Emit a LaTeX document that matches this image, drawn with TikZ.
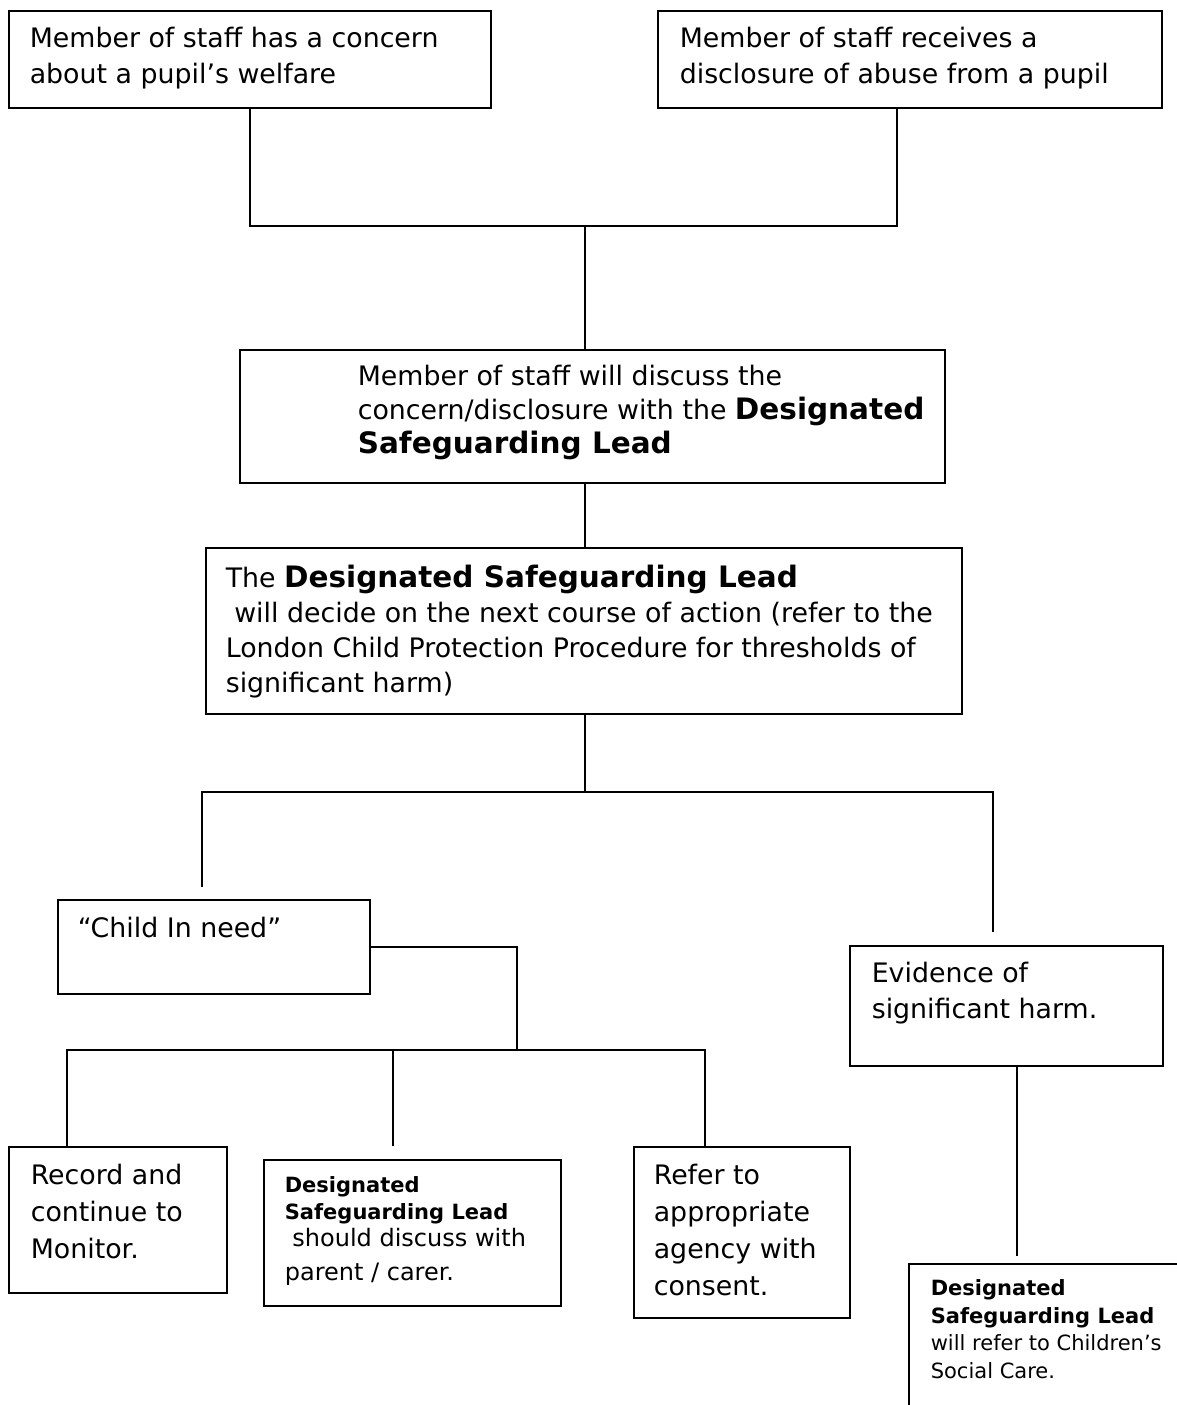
\documentclass[tikz,border=0pt]{standalone}
\usepackage{fontspec}
\setmainfont{DejaVu Sans}

% width, height, left pad, first baseline, text
\newcommand{\boxtext}[5]{\parbox[t][#2pt][t]{#1pt}{\raggedright\leftskip=#3pt\rule{0pt}{#4pt}#5}}
\newcommand{\dsl}[1]{{\fontsize{29.5}{36}\selectfont\bfseries #1}}
\newcommand{\dslsmall}[1]{{\fontsize{21}{26}\selectfont\bfseries #1}}

\tikzset{
  box/.style={draw,line width=1.6pt,anchor=north west,inner sep=0pt,font=\fontsize{26.8}{36}\selectfont},
  link/.style={line width=1.6pt}
}

\begin{document}
\begin{tikzpicture}[x=1pt,y=-1pt]
  \useasboundingbox (0,0) rectangle (1177,1405);
  \clip (0,0) rectangle (1177,1405);

  \node[box] (concern) at (8,10) {\boxtext{482}{97}{21}{37}{Member of staff has a concern\\about a pupil’s welfare}};
  \node[box] (disclosure) at (657,10) {\boxtext{504}{97}{22}{37}{Member of staff receives a\\disclosure of abuse from a pupil}};
  \node[box,font=\fontsize{26.8}{34}\selectfont] (discuss) at (239,349) {\boxtext{705}{133}{118}{36}{Member of staff will discuss the\\concern/disclosure with the \dsl{Designated}\\\dsl{Safeguarding Lead}}};
  \node[box,font=\fontsize{26.8}{35}\selectfont] (decide) at (205,547) {\boxtext{756}{166}{20}{40}{The \dsl{Designated Safeguarding Lead}\\\ will decide on the next course of action (refer to the\\London Child Protection Procedure for thresholds of\\significant harm)}};
  \node[box] (cin) at (57,899) {\boxtext{312}{94}{20}{38}{“Child In need”}};
  \node[box] (harm) at (849,945) {\boxtext{313}{120}{22}{37}{Evidence of\\significant harm.}};
  \node[box,font=\fontsize{26.8}{37}\selectfont] (record) at (8,1146) {\boxtext{218}{146}{22}{38}{Record and\\continue to\\Monitor.}};
  \node[box,font=\fontsize{24}{27}\selectfont] (parent) at (263,1159) {\boxtext{297}{146}{21}{33}{\dslsmall{Designated}\\\dslsmall{Safeguarding Lead}\\\ should discuss with\\[7pt]parent / carer.}};
  \node[box,font=\fontsize{26.8}{37}\selectfont] (agency) at (633,1146) {\boxtext{216}{171}{20}{38}{Refer to\\appropriate\\agency with\\consent.}};
  \node[box,font=\fontsize{21}{27.5}\selectfont] (social) at (908,1263) {\boxtext{320}{180}{22}{32}{\dslsmall{Designated}\\\dslsmall{Safeguarding Lead}\\will refer to Children’s\\Social Care.}};

  % join points
  \coordinate (j1) at (585,226);
  \coordinate (j2) at (585,792);
  \coordinate (j3) at (517,1050);
  \coordinate (cinTop) at (202,887);
  \coordinate (harmTop) at (993,932);
  \coordinate (parentTop) at (393,1146);
  \coordinate (socialTop) at (1017,1256);

  \draw[link] (concern.south) |- (j1) -| (897,0 |- disclosure.south);
  \draw[link] (j1) -- (j1 |- discuss.north);
  \draw[link] (discuss.south -| j1) -- (decide.north -| j1);
  \draw[link] (decide.south -| j2) -- (j2);
  \draw[link] (cinTop) |- (j2) -| (harmTop);
  \draw[link] (cin.east) -| (j3);
  \draw[link] (67,0 |- record.north) |- (j3) -| (705,0 |- agency.north);
  \draw[link] (parentTop) -- (parentTop |- j3);
  \draw[link] (socialTop |- harm.south) -- (socialTop);
\end{tikzpicture}
\end{document}
